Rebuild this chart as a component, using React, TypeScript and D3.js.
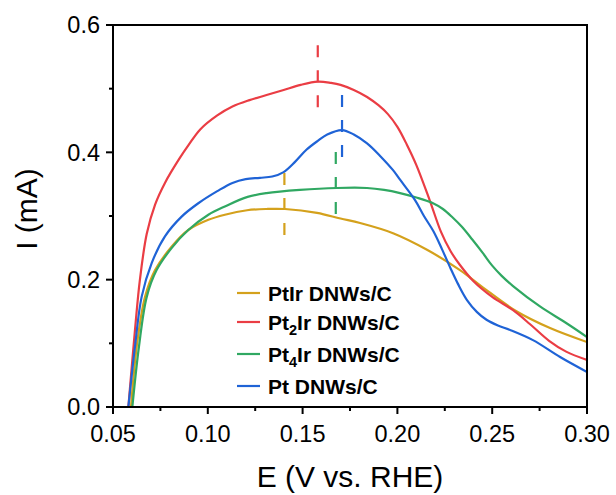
import React from "react";
import * as d3 from "d3";

type Pt = [number, number];

const seriesNames = ["PtIr DNWs/C", "Pt2Ir DNWs/C", "Pt4Ir DNWs/C", "Pt DNWs/C"];
const seriesColors = ["#d4a11c", "#ea3d44", "#30a862", "#1f63d6"];

const ptIr: Pt[] = [
  [0.0595, 0], [0.0625, 0.095], [0.0669, 0.173], [0.0722, 0.215], [0.081, 0.252],
  [0.0897, 0.278], [0.1003, 0.294], [0.109, 0.302], [0.1207, 0.309], [0.131, 0.311],
  [0.1407, 0.311], [0.1576, 0.305], [0.17, 0.296], [0.1803, 0.289], [0.1977, 0.273],
  [0.2156, 0.247], [0.233, 0.215], [0.245, 0.188], [0.263, 0.15], [0.2805, 0.124], [0.30, 0.102],
];
const pt2Ir: Pt[] = [
  [0.0581, 0], [0.0616, 0.121], [0.0642, 0.2], [0.0678, 0.272], [0.0722, 0.318],
  [0.0774, 0.352], [0.085, 0.39], [0.09, 0.412], [0.096, 0.436], [0.105, 0.458],
  [0.113, 0.472], [0.122, 0.482], [0.131, 0.49], [0.14, 0.498], [0.149, 0.506],
  [0.158, 0.511], [0.165, 0.509], [0.17, 0.506], [0.177, 0.498], [0.184, 0.487],
  [0.19, 0.474], [0.195, 0.46], [0.2, 0.44], [0.205, 0.412], [0.21, 0.38],
  [0.217, 0.325], [0.223, 0.275], [0.228, 0.245], [0.233, 0.223], [0.24, 0.198],
  [0.25, 0.173], [0.261, 0.152], [0.27, 0.13], [0.28, 0.104], [0.289, 0.087], [0.30, 0.074],
];
const pt4Ir: Pt[] = [
  [0.0602, 0], [0.0637, 0.095], [0.0678, 0.173], [0.073, 0.215], [0.081, 0.25],
  [0.0897, 0.278], [0.1003, 0.302], [0.109, 0.315], [0.121, 0.33], [0.131, 0.336],
  [0.1486, 0.341], [0.168, 0.344], [0.184, 0.344], [0.193, 0.341], [0.2014, 0.336],
  [0.21, 0.329], [0.2188, 0.32], [0.224, 0.311], [0.229, 0.298], [0.234, 0.283],
  [0.2395, 0.263], [0.245, 0.242], [0.25, 0.222], [0.255, 0.206], [0.261, 0.19],
  [0.2752, 0.158], [0.289, 0.132], [0.30, 0.11],
];
const pt: Pt[] = [
  [0.0581, 0], [0.0616, 0.095], [0.0651, 0.173], [0.0704, 0.226], [0.0774, 0.268],
  [0.0862, 0.299], [0.095, 0.32], [0.105, 0.339], [0.113, 0.352], [0.12, 0.358],
  [0.1275, 0.36], [0.134, 0.362], [0.14, 0.369], [0.146, 0.385], [0.152, 0.404],
  [0.158, 0.418], [0.163, 0.428], [0.1708, 0.435], [0.177, 0.428], [0.184, 0.414],
  [0.191, 0.394], [0.1977, 0.372], [0.2014, 0.357], [0.2093, 0.325], [0.214, 0.3],
  [0.219, 0.276], [0.2235, 0.248], [0.228, 0.218], [0.232, 0.193], [0.2367, 0.168],
  [0.242, 0.149], [0.247, 0.137], [0.253, 0.128], [0.2594, 0.121], [0.2715, 0.105],
  [0.2858, 0.0785], [0.30, 0.055],
];
const seriesData: Pt[][] = [ptIr, pt2Ir, pt4Ir, pt];

// peak markers: x, top, bottom (per series)
const markerX = [0.1404, 0.158, 0.1675, 0.1708];
const markerTop = [0.3675, 0.568, 0.4005, 0.49];
const markerBottom = [0.267, 0.47, 0.3016, 0.391];

const xTicks = [0.05, 0.1, 0.15, 0.2, 0.25, 0.3];
const xMinor = [0.075, 0.125, 0.175, 0.225, 0.275];
const yTicks = [0.0, 0.2, 0.4, 0.6];
const yMinor = [0.1, 0.3, 0.5];

const W = 616, H = 495;
const L = 113, R = 587, T = 25, B = 407;
const FONT = "'Liberation Sans', Arial, sans-serif";

export default function App() {
  const x = d3.scaleLinear().domain([0.05, 0.3]).range([L, R]);
  const y = d3.scaleLinear().domain([0, 0.6]).range([B, T]);
  const line = d3
    .line<Pt>()
    .x((d) => x(d[0]))
    .y((d) => y(d[1]))
    .curve(d3.curveCatmullRom.alpha(0.5));

  const legendY = [293, 322, 354, 386];
  const subs = ["", "2", "4", ""];

  return (
    <svg
      width={W}
      height={H}
      style={{ position: "absolute", left: 0, top: 0, background: "#fff" }}
      fontFamily={FONT}
    >
      <rect x={0} y={0} width={W} height={H} fill="#fff" />
      <defs>
        <clipPath id="plot">
          <rect x={L} y={T} width={R - L} height={B - T} />
        </clipPath>
      </defs>
      <g clipPath="url(#plot)">
        {seriesData.map((s, i) => (
          <path key={i} d={line(s) || ""} fill="none" stroke={seriesColors[i]} strokeWidth={2.2} />
        ))}
      </g>
      {markerX.map((mx, i) => (
        <line
          key={i}
          x1={x(mx)}
          x2={x(mx)}
          y1={y(markerTop[i])}
          y2={y(markerBottom[i])}
          stroke={seriesColors[i]}
          strokeWidth={2.2}
          strokeDasharray="12,13"
        />
      ))}
      {/* frame */}
      <rect x={L} y={T} width={R - L} height={B - T} fill="none" stroke="#000" strokeWidth={2} />
      {/* x ticks */}
      {xTicks.map((t) => (
        <g key={"xt" + t}>
          <line x1={x(t)} x2={x(t)} y1={B} y2={B + 7} stroke="#000" strokeWidth={2} />
          <text x={x(t)} y={442} fontSize={23.5} textAnchor="middle" fill="#000">
            {t.toFixed(2)}
          </text>
        </g>
      ))}
      {xMinor.map((t) => (
        <line key={"xm" + t} x1={x(t)} x2={x(t)} y1={B} y2={B + 4} stroke="#000" strokeWidth={2} />
      ))}
      {yTicks.map((t) => (
        <g key={"yt" + t}>
          <line x1={L - 7} x2={L} y1={y(t)} y2={y(t)} stroke="#000" strokeWidth={2} />
          <text x={100} y={y(t)} dy="0.36em" fontSize={23.5} textAnchor="end" fill="#000">
            {t.toFixed(1)}
          </text>
        </g>
      ))}
      {yMinor.map((t) => (
        <line key={"ym" + t} x1={L - 4} x2={L} y1={y(t)} y2={y(t)} stroke="#000" strokeWidth={2} />
      ))}
      {/* axis titles */}
      <text x={(L + R) / 2} y={487} fontSize={30} textAnchor="middle" fill="#000">
        E (V vs. RHE)
      </text>
      <text
        transform={`translate(37,209) rotate(-90)`}
        fontSize={30}
        textAnchor="middle"
        fill="#000"
      >
        I (mA)
      </text>
      {/* legend */}
      {seriesNames.map((name, i) => {
        const parts = name.split(subs[i] ? subs[i] : "\u0000");
        return (
          <g key={"lg" + i}>
            <line x1={237} x2={260} y1={legendY[i]} y2={legendY[i]} stroke={seriesColors[i]} strokeWidth={2.2} />
            <text x={268} y={legendY[i]} dy="0.36em" fontSize={21} fontWeight="bold" fill="#000">
              {subs[i] ? (
                <>
                  {parts[0]}
                  <tspan fontSize={14.5} dy={5}>{subs[i]}</tspan>
                  <tspan dy={-5}>{parts[1]}</tspan>
                </>
              ) : (
                name
              )}
            </text>
          </g>
        );
      })}
    </svg>
  );
}
